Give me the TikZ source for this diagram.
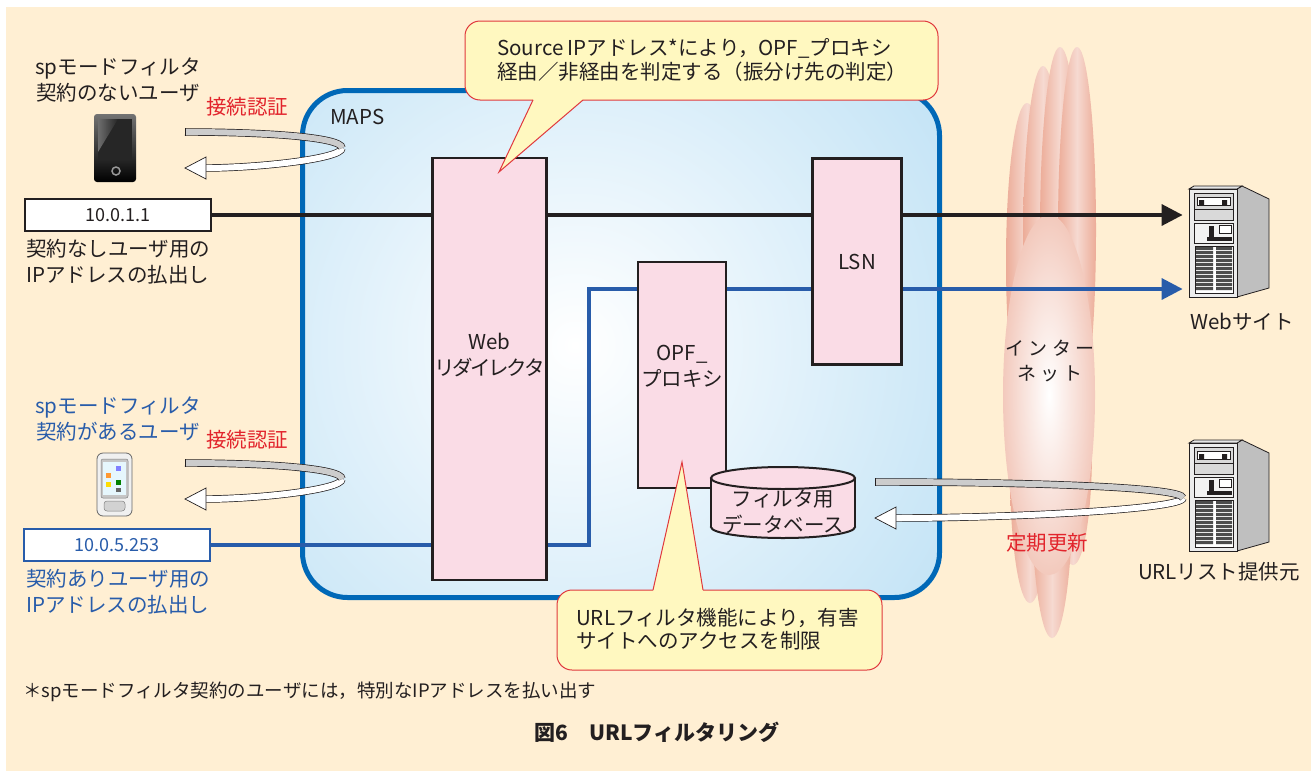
\documentclass[tikz,border=0pt]{standalone}
\usepackage{fontspec}
\setmainfont{Noto Sans CJK JP}
\usetikzlibrary{arrows.meta,calc}
\definecolor{bgbeige}{RGB}{255,239,211}
\definecolor{mapsblue}{RGB}{0,104,183}
\definecolor{mapsfill}{RGB}{190,225,245}
\definecolor{boxpink}{RGB}{250,220,230}
\definecolor{calloutyellow}{RGB}{255,248,192}
\definecolor{calloutred}{RGB}{224,56,60}
\definecolor{linkblue}{RGB}{40,92,170}
\definecolor{authred}{RGB}{226,36,44}
\definecolor{cloudpink}{RGB}{236,172,152}
\definecolor{inkgray}{RGB}{35,31,32}
\pgfdeclareradialshading{cloudglow}{\pgfpoint{0bp}{0bp}}{color(0bp)=(white); color(16bp)=(cloudpink!40); color(38bp)=(cloudpink); color(50bp)=(cloudpink)}
\tikzset{>={Triangle[length=21pt,width=21pt]}}
\tikzset{
  txt/.style={font=\fontsize{20.5}{26}\selectfont, text=inkgray, inner sep=0pt, align=center},
  narrow/.style={font=\fontsize{20.5}{26}\selectfont\addfontfeatures{RawFeature=+palt}},
  proc/.style={draw=inkgray, line width=2.2pt, fill=boxpink, inner sep=0pt},
  ipbox/.style={draw=inkgray, line width=1.6pt, fill=white, minimum width=186pt, minimum height=32pt,
    font=\fontsize{18}{22}\selectfont, text=inkgray},
  mapsbox/.style={draw=mapsblue, line width=5pt, rounded corners=45pt, minimum width=637pt,
    minimum height=507pt, inner sep=0pt},
  wire/.style={line width=3.5pt, ->, shorten >=6pt},
  note/.style={draw=calloutred, line width=1pt},
  ribbon/.style={draw=inkgray, line width=0.7pt, double distance=6pt},
  lobe/.style={left color=cloudpink, right color=cloudpink, middle color=cloudpink!45},
  server/.pic={
    \filldraw[fill=gray!50, draw=inkgray, line width=0.8pt] (48,0) -- (53,-3) -- (80,10) -- (80,99) -- (48,108) -- cycle;
    \filldraw[fill=gray!20, draw=inkgray, line width=0.8pt] (0,0) -- (5,-3) -- (53,-3) -- (48,0) -- cycle;
    \node[draw=inkgray, line width=0.8pt, fill=gray!15, minimum width=48pt, minimum height=108pt, inner sep=0pt] (-face) at (24,54) {};
    % drive bay
    \filldraw[fill=gray!30, draw=inkgray, line width=0.5pt] (5,4) rectangle (44,31);
    \filldraw[fill=white, draw=inkgray, line width=0.5pt] (8,8) rectangle (41,16);
    \fill[inkgray] (10,11) rectangle (15,16) (33,11) rectangle (38,16);
    \draw[inkgray, line width=0.5pt] (5,20) -- (44,20);
    % panel
    \filldraw[fill=gray!10, draw=inkgray, line width=0.5pt] (5,34) rectangle (44,54);
    \filldraw[fill=white, draw=inkgray, line width=0.5pt] (30,36) rectangle (42,44);
    \fill[inkgray] (20,37) rectangle (25,48);
    \fill[inkgray] (18,48) rectangle (43,52);
    % grille
    \fill[white] (6,57) rectangle (44,104);
    \foreach \r in {0,...,10}
      \fill[black!70] (7,58+4*\r) rectangle (24,61+4*\r) (27,58+4*\r) rectangle (43,61+4*\r);
    \draw[inkgray, line width=0.5pt] (6,57) rectangle (44,104);
  }
}
% #1 left end, #2 right end, #3 top of the loop
\newcommand\ribbonloop[3]{%
  \draw[ribbon, double=white] (#2,#3+20) .. controls (#2,#3+31) and (#1+0.45*#2-0.45*#1,#3+40) .. (#1+21,#3+40);
  \draw[ribbon, double=gray!40] (#1,#3+4) .. controls (#1+0.5*#2-0.5*#1,#3+4) and (#2,#3+9) .. (#2,#3+20);
  \draw[inkgray, line width=0.7pt] (#1,#3+0.3) -- (#1,#3+7.7);
  \filldraw[fill=white, draw=inkgray, line width=0.7pt] (#1+21,#3+29) -- (#1,#3+40) -- (#1+21,#3+51) -- cycle;
}

\begin{document}
\begin{tikzpicture}[x=1pt,y=-1pt]
\useasboundingbox (0,0) rectangle (1311,771);
\fill[bgbeige] (6,7) rectangle (1311,771);

% internet cloud
\foreach \cx/\cy/\rx/\ry in {1027/262/21/159, 1043/245/20/179, 1060/230/20/183, 1077/230/19/183,
                             1030/470/20/133, 1073/450/19/115, 1052/480/21/158}
  \shade[lobe] (\cx,\cy) ellipse [x radius=\rx pt, y radius=\ry pt];
\shade[shading=cloudglow] (1049,395) ellipse [x radius=46pt, y radius=180pt];
\node[txt, font=\fontsize{19}{25}\selectfont] (inet) at (1050,361) {イ ン タ ー\\ネ ッ ト};

% MAPS
\begin{scope}
  \clip[rounded corners=45pt] (302.5,90.5) rectangle (939.5,597.5);
  \fill[mapsfill] (300,88) rectangle (942,600);
  \shade[inner color=white, outer color=mapsfill] (575,345) circle (480pt);
\end{scope}
\node[mapsbox] (maps) at (621,344) {};
\node[txt, anchor=west] (mapsname) at (330,117) {MAPS};

% servers
\pic (wsrv) at (1189,189) {server};
\pic (usrv) at (1189,443) {server};
\node[txt] (wsrvname) at (1242,322) {Webサイト};
\node[txt] (usrvname) at (1219,572) {URLリスト提供元};

% IP addresses
\node[ipbox] (ip1) at (118,215) {10.0.1.1};
\node[ipbox, draw=linkblue, text=linkblue] (ip2) at (117,545) {10.0.5.253};
\node[txt, anchor=west, align=left] (ip1note) at (26,262) {契約なしユーザ用の\\IPアドレスの払出し};
\node[txt, anchor=west, align=left, text=linkblue] (ip2note) at (26,592) {契約ありユーザ用の\\IPアドレスの払出し};

% routes
\coordinate (split) at (589,289);
\draw[wire, inkgray] (ip1.east) -- (ip1.east -| wsrv-face.west);
\draw[wire, linkblue] (ip2.east) -| (split) -- (split -| wsrv-face.west);

% MAPS functions
\node[proc, minimum width=114pt, minimum height=422pt] (web) at (489.5,369) {};
\node[txt, narrow] (webname) at (489.5,355) {Web\\リダイレクタ};
\node[proc, minimum width=88pt, minimum height=226pt] (opf) at (682,375) {};
\node[txt] (opfname) at (682,366) {OPF\_\\プロキシ};
\node[proc, txt, minimum width=89pt, minimum height=206pt] (lsn) at (857,261.5) {LSN};

% filter database
\filldraw[fill=boxpink, draw=inkgray, line width=2pt] (783,527) ellipse [x radius=72pt, y radius=11pt];
\fill[boxpink] (711,478) rectangle (855,527);
\draw[inkgray, line width=2pt] (711,478) -- (711,527) (855,478) -- (855,527);
\filldraw[fill=boxpink, draw=inkgray, line width=2pt] (783,478) ellipse [x radius=72pt, y radius=11pt];
\node[txt] (db) at (783,512) {フィルタ用\\データベース};

% callouts
\fill[calloutyellow, rounded corners=15pt] (465,21) rectangle (938,100);
\fill[calloutyellow] (533,100) -- (499,172) -- (583,100) -- cycle;
\draw[note, rounded corners=15pt] (583,100) -- (938,100) -- (938,21) -- (465,21) -- (465,100) -- (533,100);
\draw[note] (533,100) -- (499,172) -- (583,100);
\node[txt, anchor=west, align=left, font=\fontsize{20.5}{24}\selectfont] (srcnote) at (497,60)
  {Source IPアドレス*により，OPF\_プロキシ\\経由／非経由を判定する（振分け先の判定）};

\fill[calloutyellow, rounded corners=15pt] (557,590) rectangle (882,670);
\fill[calloutyellow] (653,590) -- (682,462) -- (703,590) -- cycle;
\draw[note, rounded corners=15pt] (703,590) -- (882,590) -- (882,670) -- (557,670) -- (557,590) -- (653,590);
\draw[note] (653,590) -- (682,462) -- (703,590);
\node[txt, anchor=west, align=left, font=\fontsize{20.5}{23}\selectfont] (urlnote) at (576,629)
  {URLフィルタ機能により，有害\\サイトへのアクセスを制限};

% users
\node[txt] (nouser) at (118,80) {spモードフィルタ\\契約のないユーザ};
\node[txt, text=linkblue] (yesuser) at (118,419) {spモードフィルタ\\契約があるユーザ};
\node[txt, text=authred] (auth1) at (247,107) {接続認証};
\node[txt, text=authred] (auth2) at (247,440) {接続認証};

% handset without filter contract
\shade[top color=black!55, bottom color=black, rounded corners=3pt] (94,114) rectangle (136,182);
\fill[black!85] (98,119) rectangle (132,160);
\shade[left color=black!45, right color=black!85, opacity=0.7] (98,119) -- (118,119) -- (98,152) -- cycle;
\draw[black!40, line width=1.5pt] (116,171) circle (4pt);

% handset with filter contract
\filldraw[fill=gray!12, draw=black!60, line width=0.8pt, rounded corners=6pt] (97,453) rectangle (132,516);
\filldraw[fill=gray!45, draw=black!50, line width=0.5pt, rounded corners=2pt] (101,459) rectangle (128,498);
\fill[cyan!10] (103,462) rectangle (126,495);
\fill[orange!80] (106,473) rectangle (111,478);
\fill[blue!50] (116,466) rectangle (121,471);
\fill[yellow!80!orange] (106,482) rectangle (111,487);
\fill[green!50!black] (116,480) rectangle (121,485);
\fill[black!60] (116,488) rectangle (121,492);
\filldraw[fill=gray!35, draw=black!50, line width=0.5pt, rounded corners=3pt] (104,501) rectangle (125,511);

% authentication and update loops
\ribbonloop{185}{342}{128}
\ribbonloop{185}{342}{459}
\ribbonloop{875}{1183}{478}
\node[txt, text=authred] (update) at (1047,543) {定期更新};

% notes
\node[txt, anchor=west, font=\fontsize{18.5}{22}\selectfont] (fnote) at (23,692)
  {＊spモードフィルタ契約のユーザには，特別なIPアドレスを払い出す};
\node[txt, font=\bfseries\fontsize{21}{24}\selectfont] (caption) at (657,732) {図6　URLフィルタリング};
\end{tikzpicture}
\end{document}
